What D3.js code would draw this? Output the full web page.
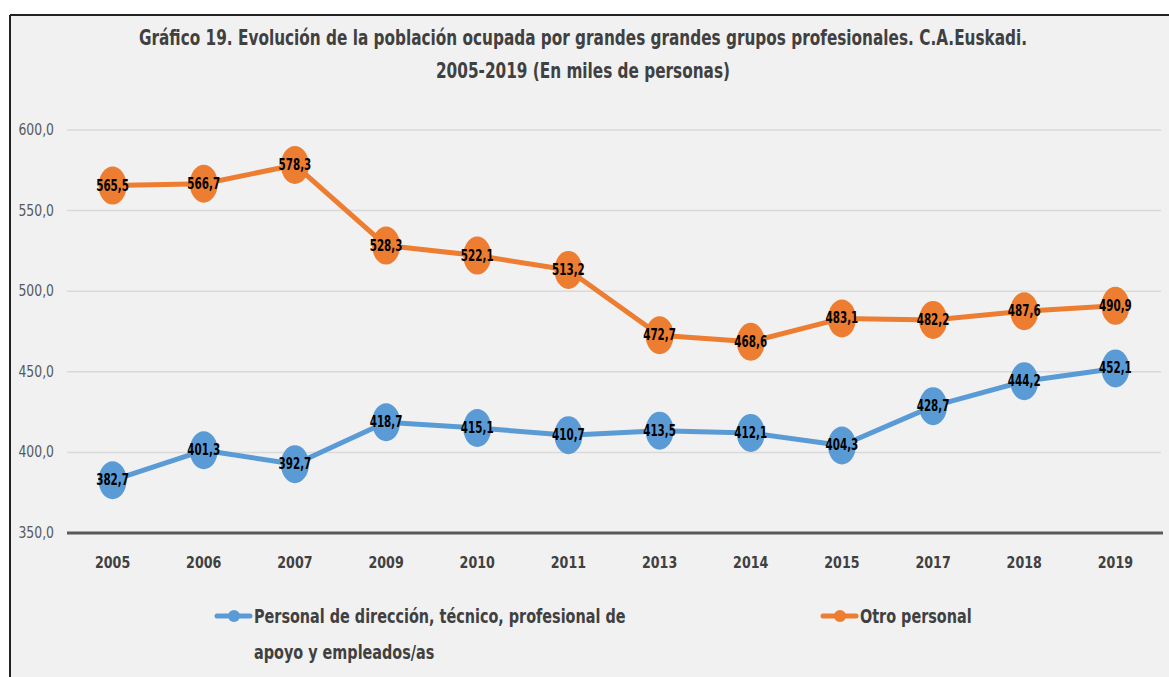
<!DOCTYPE html>
<html>
<head>
<meta charset="utf-8">
<script src="https://cdn.jsdelivr.net/npm/d3@7"></script>
<style>
  body { margin: 0; background: #fff; }
  svg text { font-family: "Liberation Sans Narrow", "DejaVu Sans Condensed", "Liberation Sans", sans-serif; }
</style>
</head>
<body>
<svg width="1169" height="677"></svg>
<script>
const years = ["2005", "2006", "2007", "2009", "2010", "2011", "2013", "2014", "2015", "2017", "2018", "2019"];
const direccion = [382.7, 401.3, 392.7, 418.7, 415.1, 410.7, 413.5, 412.1, 404.3, 428.7, 444.2, 452.1];
const otro = [565.5, 566.7, 578.3, 528.3, 522.1, 513.2, 472.7, 468.6, 483.1, 482.2, 487.6, 490.9];
const yTicks = [350, 400, 450, 500, 550, 600];
const seriesNames = ["Personal de dirección, técnico, profesional de|apoyo y empleados/as", "Otro personal"];

const svg = d3.select("svg"),
      width = +svg.attr("width"),
      height = +svg.attr("height");

const colors = ["#5B9BD5", "#ED7D31"];
const fmt = v => d3.format(".1f")(v).replace(".", ",");

// squeeze text horizontally (the original uses a narrow font)
function narrow(sel, s) {
  sel.attr("transform", `scale(${s},1)`);
  sel.attr("x", function() { return +d3.select(this).attr("x") / s; });
  sel.selectAll("tspan").attr("x", function() { return +d3.select(this).attr("x") / s; });
}

// background + frame
svg.append("rect").attr("x", 10).attr("y", 15).attr("width", width - 10).attr("height", height - 15).attr("fill", "#f1f1f1");
svg.append("line").attr("x1", 10).attr("x2", width).attr("y1", 15).attr("y2", 15).attr("stroke", "#222").attr("stroke-width", 2);
svg.append("line").attr("x1", 10).attr("x2", 10).attr("y1", 15).attr("y2", height).attr("stroke", "#222").attr("stroke-width", 2);

// title
const title = svg.append("text")
  .attr("x", 583).attr("y", 45)
  .attr("text-anchor", "middle")
  .attr("font-size", 21).attr("font-weight", "bold").attr("fill", "#404040");
title.append("tspan").attr("x", 583).text("Gráfico 19. Evolución de la población ocupada por grandes grandes grupos profesionales. C.A.Euskadi.");
title.append("tspan").attr("x", 583).attr("dy", 33).text("2005-2019 (En miles de personas)");
narrow(title, 0.81);

const x = d3.scaleBand().domain(years).range([67, 1161]);
const y = d3.scaleLinear().domain([350, 600]).range([533, 130]);

// gridlines
svg.append("g").selectAll("line")
  .data(yTicks.filter(t => t > 350))
  .enter().append("line")
  .attr("x1", 67).attr("x2", 1161)
  .attr("y1", d => y(d)).attr("y2", d => y(d))
  .attr("stroke", "#d9d9d9").attr("stroke-width", 1.5);

// y labels
svg.append("g").selectAll("text")
  .data(yTicks)
  .enter().append("text")
  .attr("x", 54).attr("y", d => y(d) + 5)
  .attr("text-anchor", "end")
  .attr("font-size", 15).attr("fill", "#595959")
  .text(d => fmt(d))
  .call(narrow, 0.92);

// x axis line
svg.append("line").attr("x1", 67).attr("x2", 1163).attr("y1", y(350)).attr("y2", y(350))
  .attr("stroke", "#595959").attr("stroke-width", 3);

svg.append("g").selectAll("text")
  .data(years)
  .enter().append("text")
  .attr("x", d => x(d) + x.bandwidth() / 2).attr("y", 568)
  .attr("text-anchor", "middle")
  .attr("font-size", 16).attr("font-weight", "bold").attr("fill", "#404040")
  .text(d => d)
  .call(narrow, 0.88);

const series = [direccion, otro];
const line = d3.line().x((d, i) => x(years[i]) + x.bandwidth() / 2).y(d => y(d));

series.forEach((s, k) => {
  const g = svg.append("g");
  g.append("path").attr("d", line(s)).attr("fill", "none")
    .attr("stroke", colors[k]).attr("stroke-width", 5).attr("stroke-linejoin", "round");
  g.selectAll("ellipse").data(s).enter().append("ellipse")
    .attr("cx", (d, i) => x(years[i]) + x.bandwidth() / 2)
    .attr("cy", d => y(d))
    .attr("rx", 14).attr("ry", 19)
    .attr("fill", colors[k]);
  g.selectAll("text").data(s).enter().append("text")
    .attr("x", (d, i) => x(years[i]) + x.bandwidth() / 2)
    .attr("y", d => y(d) + 5)
    .attr("text-anchor", "middle")
    .attr("font-size", 16).attr("font-weight", "bold").attr("fill", "#000")
    .text(d => fmt(d))
    .call(narrow, 0.72);
});

// legend
const legendPos = [[217, 616], [823, 616]];
seriesNames.forEach((name, k) => {
  const [lx, ly] = legendPos[k];
  const lg = svg.append("g").attr("transform", `translate(${lx},${ly})`);
  lg.append("line").attr("x1", 0).attr("x2", 33).attr("y1", 0).attr("y2", 0)
    .attr("stroke", colors[k]).attr("stroke-width", 5).attr("stroke-linecap", "round");
  lg.append("circle").attr("cx", 17).attr("cy", 0).attr("r", 6).attr("fill", colors[k]);
  const t = lg.append("text").attr("x", 37).attr("y", 7)
    .attr("font-size", 20).attr("font-weight", "bold").attr("fill", "#404040");
  name.split("|").forEach((part, j) => {
    t.append("tspan").attr("x", 37).attr("dy", j === 0 ? 0 : 36).text(part);
  });
  narrow(t, 0.8);
});
</script>
</body>
</html>
